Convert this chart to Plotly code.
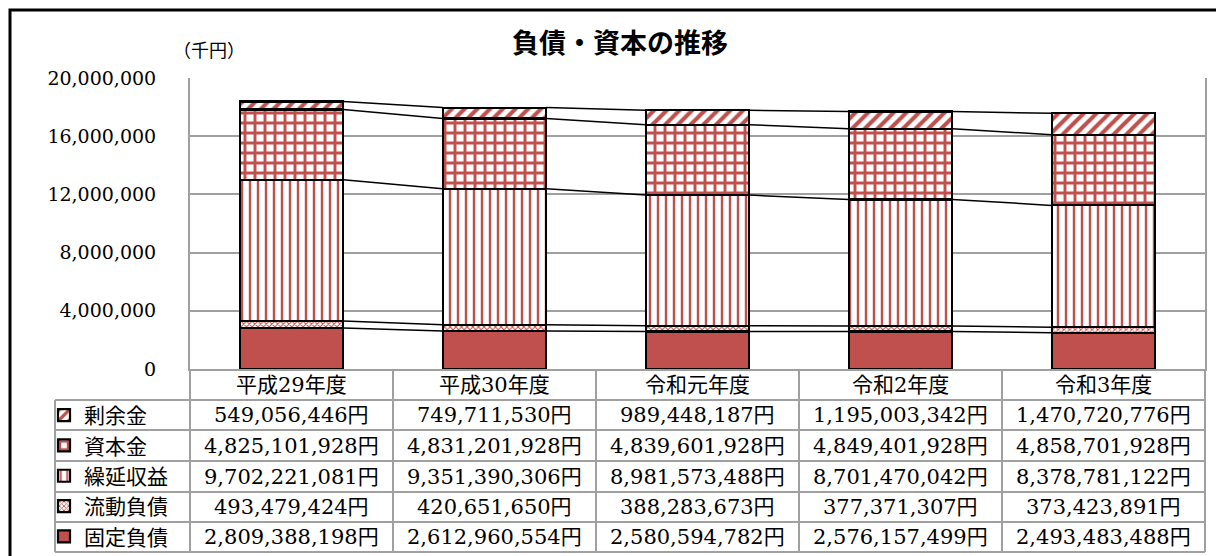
import plotly.graph_objects as go

# ---------------- data ----------------
years = ["平成29年度", "平成30年度", "令和元年度", "令和2年度", "令和3年度"]
# series listed bottom -> top of the stack (values in 円)
kotei_fusai = [2809388198, 2612960554, 2580594782, 2576157499, 2493483488]   # 固定負債
ryudo_fusai = [493479424, 420651650, 388283673, 377371307, 373423891]        # 流動負債
kurinobe = [9702221081, 9351390306, 8981573488, 8701470042, 8378781122]      # 繰延収益
shihonkin = [4825101928, 4831201928, 4839601928, 4849401928, 4858701928]     # 資本金
joyokin = [549056446, 749711530, 989448187, 1195003342, 1470720776]          # 剰余金
series_names = ["固定負債", "流動負債", "繰延収益", "資本金", "剰余金"]
series_values = [kotei_fusai, ryudo_fusai, kurinobe, shihonkin, joyokin]
y_ticks = [0, 4000000, 8000000, 12000000, 16000000, 20000000]
title_text = "負債・資本の推移"
unit_text = "（千円）"

# ---------------- styling ----------------
W, H = 1216, 556
ML, MR, MT, MB = 190, 11, 78, 187
PW, PH = W - ML - MR, H - MT - MB
RED = "#C0504D"
GRID = "#A0A0A0"
SERIF = "DejaVu Serif, Noto Sans CJK JP"
CJK = "Noto Sans CJK JP"
BAR_W = 0.51

def px_x(px):
    return (px - ML) / PW

def px_y(py):
    return (H - MB - py) / PH

patterns = [
    dict(shape="", fgcolor=RED),
    dict(shape="x", size=4, solidity=0.45, fgcolor=RED, bgcolor="white", fillmode="replace"),
    dict(shape="|", size=8, solidity=0.3, fgcolor=RED, bgcolor="white", fillmode="replace"),
    dict(shape="+", size=10, solidity=0.5, fgcolor=RED, bgcolor="white", fillmode="replace"),
    dict(shape="/", size=9, solidity=0.45, fgcolor=RED, bgcolor="white", fillmode="replace"),
]

xs = list(range(len(years)))
fig = go.Figure()
for name, vals, pat in zip(series_names, series_values, patterns):
    marker = dict(color=RED if pat["shape"] == "" else "white",
                  line=dict(color="black", width=2.2))
    if pat["shape"]:
        marker["pattern"] = pat
    fig.add_trace(go.Bar(
        x=xs, y=[v / 1000 for v in vals], name=name, width=BAR_W,
        marker=marker, hoverinfo="skip",
    ))

# series lines connecting segment tops
cum = [0.0] * len(years)
for vals in series_values:
    cum = [c + v / 1000 for c, v in zip(cum, vals)]
    lx, ly = [], []
    for i in range(len(years) - 1):
        lx += [i + BAR_W / 2, i + 1 - BAR_W / 2, None]
        ly += [cum[i], cum[i + 1], None]
    fig.add_trace(go.Scatter(x=lx, y=ly, mode="lines", showlegend=False,
                             line=dict(color="black", width=1.5), hoverinfo="skip"))

# ---------------- table (data table under chart) ----------------
shapes = []
row_edges = [400, 430, 461, 492, 522, 552]
header_top = 369
line_style = dict(color=GRID, width=2)
for ry in row_edges:
    shapes.append(dict(type="line", xref="paper", yref="paper",
                       x0=px_x(55), x1=1, y0=px_y(ry), y1=px_y(ry), line=line_style))
shapes.append(dict(type="line", xref="paper", yref="paper",
                   x0=px_x(55), x1=px_x(55), y0=px_y(row_edges[0]), y1=px_y(row_edges[-1]),
                   line=line_style))
for k in range(len(years) + 1):
    xk = k / len(years)
    shapes.append(dict(type="line", xref="paper", yref="paper",
                       x0=xk, x1=xk, y0=px_y(header_top), y1=px_y(row_edges[-1]),
                       line=line_style))
# outer frame
shapes.append(dict(type="rect", xref="paper", yref="paper",
                   x0=px_x(10), x1=px_x(1240), y0=px_y(10), y1=px_y(600),
                   line=dict(color="black", width=3), fillcolor="rgba(0,0,0,0)"))

annotations = []
annotations.append(dict(text=f"<b>{title_text}</b>", xref="paper", yref="paper",
                        x=px_x(620), y=px_y(41), xanchor="center", yanchor="middle",
                        showarrow=False,
                        font=dict(family=CJK, size=27, color="black")))
annotations.append(dict(text=unit_text, xref="paper", yref="paper",
                        x=px_x(209), y=px_y(49), xanchor="center", yanchor="middle",
                        showarrow=False,
                        font=dict(family=CJK, size=18, color="black")))
for i, yr in enumerate(years):
    annotations.append(dict(text=yr, xref="x", yref="paper", x=i,
                            y=px_y((header_top + row_edges[0]) / 2),
                            xanchor="center", yanchor="middle", showarrow=False,
                            font=dict(family=SERIF, size=21, color="black")))
rows_top_down = list(reversed(series_values))
for r, vals in enumerate(rows_top_down):
    yc = px_y((row_edges[r] + row_edges[r + 1]) / 2)
    for i, v in enumerate(vals):
        annotations.append(dict(text=f"{v:,}円", xref="x", yref="paper", x=i, y=yc,
                                xanchor="center", yanchor="middle", showarrow=False,
                                font=dict(family=SERIF, size=21, color="black")))

fig.update_layout(
    width=W, height=H,
    margin=dict(l=ML, r=MR, t=MT, b=MB, autoexpand=False),
    paper_bgcolor="white", plot_bgcolor="white",
    barmode="stack", bargap=0.49,
    showlegend=True,
    legend=dict(x=px_x(44), y=px_y(395), xanchor="left", yanchor="top",
                traceorder="reversed", font=dict(family=CJK, size=21, color="black"),
                bgcolor="rgba(0,0,0,0)", itemclick=False, itemdoubleclick=False),
    xaxis=dict(range=[-0.5, len(years) - 0.5], showticklabels=False, showgrid=False,
               zeroline=False, showline=True, linecolor=GRID, linewidth=2, ticks=""),
    yaxis=dict(range=[0, 20000000], tickvals=y_ticks, tickformat=",",
               showgrid=True, gridcolor=GRID, gridwidth=1.5, zeroline=False,
               showline=True, mirror=True, linecolor=GRID, linewidth=2,
               ticklabelstandoff=28,
               tickfont=dict(family=SERIF, size=19, color="black")),
    shapes=shapes,
    annotations=annotations,
)

fig.write_html("out.html", config={"displayModeBar": False},
               post_script="document.body.style.margin='0';")
